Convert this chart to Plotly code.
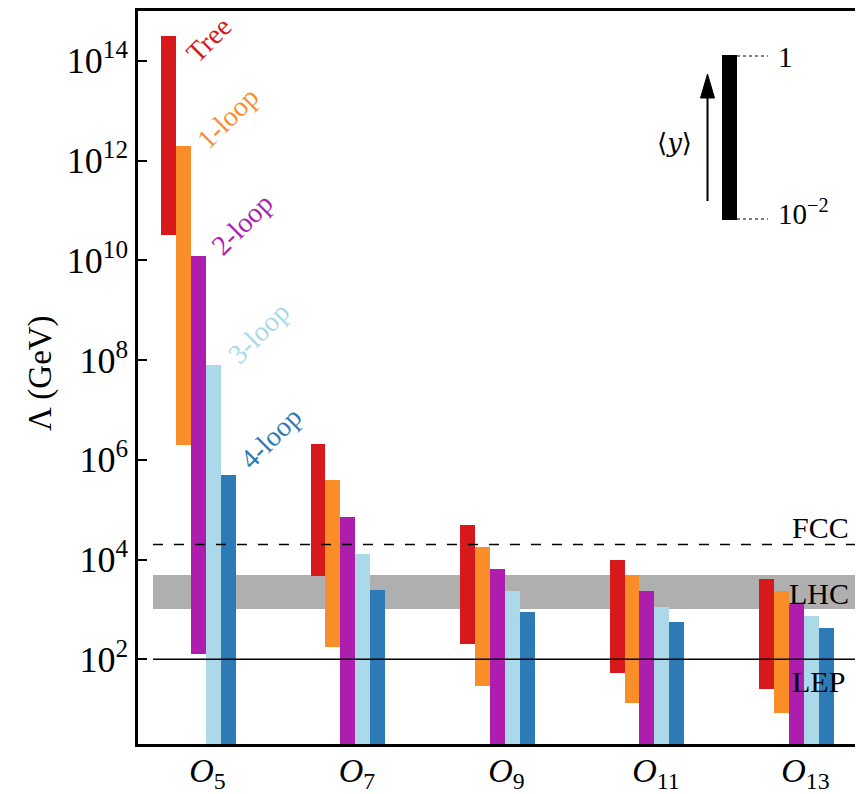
import numpy as np
import plotly.graph_objects as go

# ---------------- data ----------------
operators = ["O5", "O7", "O9", "O11", "O13"]
op_ticktext = ["<i>O</i><sub>5</sub>", "<i>O</i><sub>7</sub>", "<i>O</i><sub>9</sub>",
               "<i>O</i><sub>11</sub>", "<i>O</i><sub>13</sub>"]
series = ["Tree", "1-loop", "2-loop", "3-loop", "4-loop"]

# Lambda (GeV) ranges: upper (<y>=1) and lower (<y>=1e-2) ends; 1 = below plotted range
tree_hi = [3.1e14, 2.1e6, 4.9e4, 9.7e3, 4.0e3]
tree_lo = [3.2e10, 4.6e3, 2.0e2, 52, 25]
loop1_hi = [2.0e12, 3.9e5, 1.8e4, 4.8e3, 2.3e3]
loop1_lo = [2.0e6, 1.8e2, 29, 13, 8.4]
loop2_hi = [1.2e10, 7.1e4, 6.5e3, 2.3e3, 1.3e3]
loop2_lo = [1.3e2, 1, 1, 1, 1]
loop3_hi = [8.0e7, 1.3e4, 2.3e3, 1.1e3, 7.4e2]
loop3_lo = [1, 1, 1, 1, 1]
loop4_hi = [5.0e5, 2.5e3, 8.7e2, 5.5e2, 4.25e2]
loop4_lo = [1, 1, 1, 1, 1]

LEP = 1e2
FCC = 2e4
LHC_lo, LHC_hi = 1e3, 5e3

ytick_vals = [1e2, 1e4, 1e6, 1e8, 1e10, 1e12, 1e14]
ytick_text = ["10<sup>2</sup>", "10<sup>4</sup>", "10<sup>6</sup>", "10<sup>8</sup>",
              "10<sup>10</sup>", "10<sup>12</sup>", "10<sup>14</sup>"]

colors = ["#d7191c", "#f98e29", "#ae1eae", "#abd9e9", "#2c7bb6"]
highs = [tree_hi, loop1_hi, loop2_hi, loop3_hi, loop4_hi]
lows = [tree_lo, loop1_lo, loop2_lo, loop3_lo, loop4_lo]

# ---------------- geometry ----------------
OFF = 8  # default page body margin
W, H = 863 - OFF, 794 - OFF
L, R, T, B = 138 - OFF, 0, 11 - OFF, 50
PW, PH = W - L - R, H - T - B


def px(x):
    return (x - OFF - L) / PW


def py(y):
    return (H - B - (y - OFF)) / PH


bar_w = 0.1
line_x0, line_x1 = -0.104, 4.605
FONT = "Liberation Serif"

fig = go.Figure()

# LHC band (drawn first, under the bars)
fig.add_trace(go.Bar(x=[(line_x0 + line_x1) / 2], y=[LHC_hi - LHC_lo], base=[LHC_lo],
                     width=[line_x1 - line_x0], marker=dict(color="#afafaf", line=dict(width=0)),
                     hoverinfo="skip"))

for k, name in enumerate(series):
    xs = [i + bar_w * k for i in range(len(operators))]
    fig.add_trace(go.Bar(
        x=xs,
        y=[h - l for h, l in zip(highs[k], lows[k])],
        base=lows[k],
        width=bar_w,
        name=name,
        marker=dict(color=colors[k], line=dict(width=0)),
    ))

fig.add_trace(go.Scatter(x=[line_x0, line_x1], y=[LEP, LEP], mode="lines",
                         line=dict(color="black", width=1.6)))
fig.add_trace(go.Scatter(x=[line_x0, line_x1], y=[FCC, FCC], mode="lines",
                         line=dict(color="black", width=1.6, dash="10px,11px")))

annotations = []
# series labels (rotated)
label_pos = [(209, 40), (227, 118), (242, 225), (258, 333), (270, 438)]
for k, name in enumerate(series):
    x, y = label_pos[k]
    annotations.append(dict(x=px(x), y=py(y), xref="paper", yref="paper", text=name,
                            showarrow=False, textangle=-45, xanchor="center", yanchor="middle",
                            font=dict(family=FONT, size=28, color=colors[k])))

# collider labels
for txt, (x, y) in [("FCC", (820, 527)), ("LHC", (819, 593)), ("LEP", (818, 681))]:
    annotations.append(dict(x=px(x), y=py(y), xref="paper", yref="paper", text=txt,
                            showarrow=False, xanchor="center", yanchor="middle",
                            font=dict(family=FONT, size=30, color="black")))

# y-axis title
annotations.append(dict(x=px(41), y=py(373), xref="paper", yref="paper", text="Λ (GeV)",
                        showarrow=False, textangle=-90, xanchor="center", yanchor="middle",
                        font=dict(family=FONT, size=33, color="black")))

# inset legend text
annotations.append(dict(x=px(776), y=py(57), xref="paper", yref="paper", text="1",
                        showarrow=False, xanchor="left", yanchor="middle",
                        font=dict(family=FONT, size=29, color="black")))
annotations.append(dict(x=px(776), y=py(212), xref="paper", yref="paper", text="10<sup>−2</sup>",
                        showarrow=False, xanchor="left", yanchor="middle",
                        font=dict(family=FONT, size=29, color="black")))
annotations.append(dict(x=px(674), y=py(143), xref="paper", yref="paper", text="⟨<i>y</i>⟩",
                        showarrow=False, xanchor="center", yanchor="middle",
                        font=dict(family="DejaVu Serif", size=26, color="black")))

shapes = [
    # inset black bar
    dict(type="rect", xref="paper", yref="paper", x0=px(722), x1=px(737), y0=py(220), y1=py(55),
         fillcolor="black", line=dict(width=0)),
    dict(type="line", xref="paper", yref="paper", x0=px(737), x1=px(768), y0=py(56), y1=py(56),
         line=dict(color="black", width=1, dash="3px,3px")),
    dict(type="line", xref="paper", yref="paper", x0=px(737), x1=px(768), y0=py(219), y1=py(219),
         line=dict(color="black", width=1, dash="3px,3px")),
    # arrow shaft
    dict(type="line", xref="paper", yref="paper", x0=px(707.5), x1=px(707.5), y0=py(201), y1=py(92),
         line=dict(color="black", width=2)),
    # arrow head
    dict(type="path", xref="paper", yref="paper",
         path=f"M {px(700.5)},{py(98)} L {px(707.5)},{py(74)} L {px(714.5)},{py(98)} Z",
         fillcolor="black", line=dict(color="black", width=1)),
]

fig.update_layout(
    width=W, height=H,
    margin=dict(l=L, r=R, t=T, b=B, autoexpand=False),
    barmode="overlay",
    bargap=0,
    showlegend=False,
    plot_bgcolor="white",
    paper_bgcolor="white",
    font=dict(family=FONT, size=36, color="black"),
    annotations=annotations,
    shapes=shapes,
    xaxis=dict(
        range=[-0.204, 4.645],
        tickvals=[i + 0.26 for i in range(len(operators))],
        ticktext=op_ticktext,
        ticks="",
        ticklabelstandoff=-6,
        automargin=False,
        showline=True, linewidth=2.5, linecolor="black", mirror=True,
        showgrid=False, zeroline=False,
        tickfont=dict(family=FONT, size=34),
    ),
    yaxis=dict(
        type="log",
        range=[np.log10(2), 15],
        tickvals=ytick_vals,
        ticktext=ytick_text,
        ticks="inside", ticklen=9, tickwidth=1.5, tickcolor="black",
        automargin=False,
        showline=True, linewidth=2.5, linecolor="black", mirror=False,
        showgrid=False, zeroline=False,
        tickfont=dict(family=FONT, size=36),
    ),
)

fig.write_html("out.html")
